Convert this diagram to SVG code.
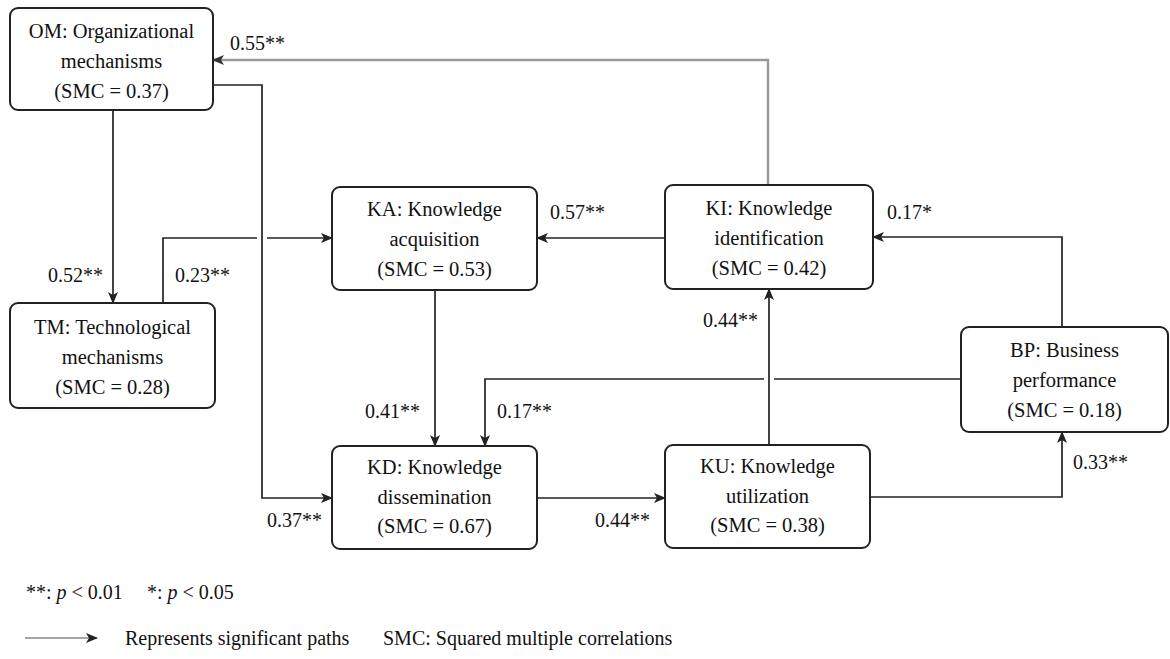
<svg xmlns="http://www.w3.org/2000/svg" width="1170" height="659" viewBox="0 0 1170 659" font-family="'Liberation Serif', 'Times New Roman', serif">
<defs>
<marker id="ah" viewBox="0 0 12 10" refX="11" refY="5" markerWidth="12" markerHeight="10" markerUnits="userSpaceOnUse" orient="auto">
<path d="M0,0 L12,5 L0,10 L3,5 z" fill="#222"/>
</marker>
<marker id="ahg" viewBox="0 0 12 10" refX="11" refY="5" markerWidth="12" markerHeight="10" markerUnits="userSpaceOnUse" orient="auto">
<path d="M0,0 L12,5 L0,10 L3,5 z" fill="#333"/>
</marker>
<style>
.box{fill:#fff;stroke:#222;stroke-width:2}
.t{font-family:'Liberation Serif','Times New Roman',serif;font-size:20.5px;fill:#111;text-anchor:middle}
.lb{font-family:'Liberation Serif','Times New Roman',serif;font-size:20px;fill:#111}
.c{fill:none;stroke:#222;stroke-width:1.7}
.g{fill:none;stroke:#999;stroke-width:2.4}
</style>
</defs>
<rect width="1170" height="659" fill="#fff"/>
<g id="connectors">
<path class="c" d="M113,110 V303" marker-end="url(#ah)"/>
<path class="c" d="M213,85 H262 V498 H332" marker-end="url(#ah)"/>
<path class="c" d="M163,303 V238 H257"/>
<path class="c" d="M267,238 H332" marker-end="url(#ah)"/>
<path class="c" d="M665,238 H537" marker-end="url(#ah)"/>
<path class="g" d="M768,185 V60 H213" marker-end="url(#ahg)"/>
<path class="c" d="M1062,327 V237 H873" marker-end="url(#ah)"/>
<path class="c" d="M961,379 H774"/>
<path class="c" d="M764,379 H485 V446" marker-end="url(#ah)"/>
<path class="c" d="M435,290 V446" marker-end="url(#ah)"/>
<path class="c" d="M537,498 H665" marker-end="url(#ah)"/>
<path class="c" d="M769,445 V289" marker-end="url(#ah)"/>
<path class="c" d="M870,497 H1062 V432" marker-end="url(#ah)"/>
</g>
<g id="labels">
<text class="lb" x="230" y="50">0.55**</text>
<text class="lb" x="550" y="219">0.57**</text>
<text class="lb" x="887" y="219">0.17*</text>
<text class="lb" x="48" y="282">0.52**</text>
<text class="lb" x="175" y="282">0.23**</text>
<text class="lb" x="703" y="327">0.44**</text>
<text class="lb" x="365" y="418">0.41**</text>
<text class="lb" x="497" y="418">0.17**</text>
<text class="lb" x="267" y="527">0.37**</text>
<text class="lb" x="595" y="527">0.44**</text>
<text class="lb" x="1073" y="469">0.33**</text>
</g>
<g id="OM">
<rect class="box" x="10" y="8" width="203" height="102" rx="8"/>
<text class="t" x="111.5" y="38">OM: Organizational</text>
<text class="t" x="111.5" y="68">mechanisms</text>
<text class="t" x="111.5" y="98">(SMC = 0.37)</text>
</g>
<g id="TM">
<rect class="box" x="10" y="303" width="205" height="105" rx="8"/>
<text class="t" x="112.5" y="334">TM: Technological</text>
<text class="t" x="112.5" y="364">mechanisms</text>
<text class="t" x="112.5" y="394">(SMC = 0.28)</text>
</g>
<g id="KA">
<rect class="box" x="332" y="187" width="205" height="103" rx="8"/>
<text class="t" x="434.5" y="216">KA: Knowledge</text>
<text class="t" x="434.5" y="246">acquisition</text>
<text class="t" x="434.5" y="276">(SMC = 0.53)</text>
</g>
<g id="KI">
<rect class="box" x="665" y="185" width="208" height="104" rx="8"/>
<text class="t" x="769" y="215">KI: Knowledge</text>
<text class="t" x="769" y="245">identification</text>
<text class="t" x="769" y="275">(SMC = 0.42)</text>
</g>
<g id="BP">
<rect class="box" x="961" y="327" width="207" height="105" rx="8"/>
<text class="t" x="1064.5" y="357">BP: Business</text>
<text class="t" x="1064.5" y="387">performance</text>
<text class="t" x="1064.5" y="417">(SMC = 0.18)</text>
</g>
<g id="KD">
<rect class="box" x="332" y="446" width="205" height="103" rx="8"/>
<text class="t" x="434.5" y="474">KD: Knowledge</text>
<text class="t" x="434.5" y="504">dissemination</text>
<text class="t" x="434.5" y="533">(SMC = 0.67)</text>
</g>
<g id="KU">
<rect class="box" x="665" y="445" width="205" height="103" rx="8"/>
<text class="t" x="767.5" y="473">KU: Knowledge</text>
<text class="t" x="767.5" y="503">utilization</text>
<text class="t" x="767.5" y="532">(SMC = 0.38)</text>
</g>
<g id="legend">
<text class="lb" x="26" y="599">**: <tspan font-style="italic">p</tspan> &lt; 0.01</text>
<text class="lb" x="147" y="599">*: <tspan font-style="italic">p</tspan> &lt; 0.05</text>
<path d="M25,638 H97" fill="none" stroke="#888" stroke-width="1.7" marker-end="url(#ah)"/>
<text class="lb" x="125" y="645">Represents significant paths</text>
<text class="lb" x="383" y="645">SMC: Squared multiple correlations</text>
</g>
</svg>
